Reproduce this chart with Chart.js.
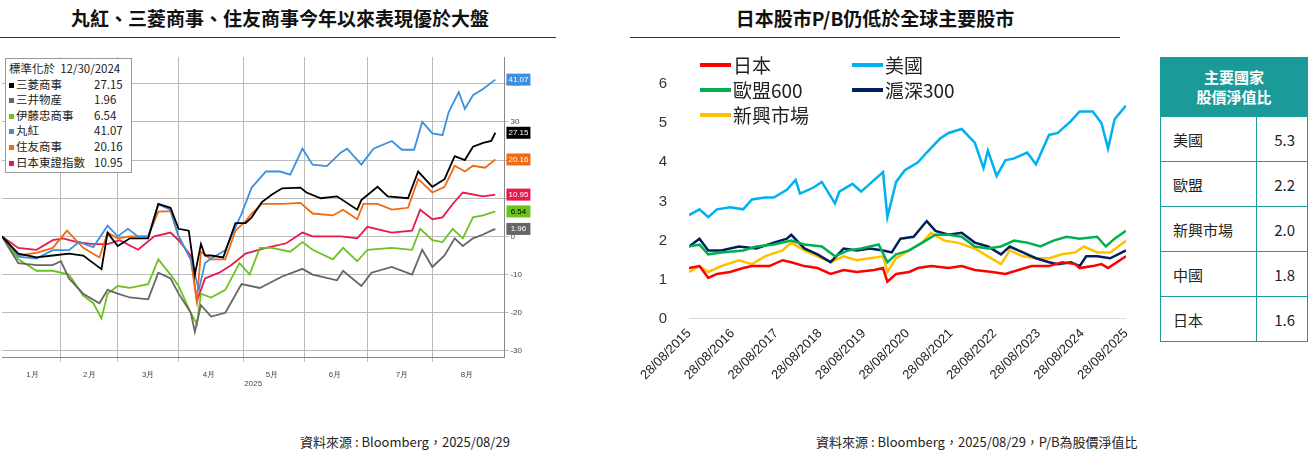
<!DOCTYPE html>
<html><head><meta charset="utf-8">
<script src="https://cdn.jsdelivr.net/npm/chart.js@4"></script>
<style>
body{margin:0;width:1312px;height:455px;background:#fff;font-family:"Noto Sans CJK TC","Noto Sans",sans-serif;position:relative;overflow:hidden}
.t{position:absolute;top:4px;font-size:19px;font-weight:bold;color:#111;text-align:center}
.hr{position:absolute;top:37px;height:1px;background:#333}
.src{position:absolute;top:432px;font-size:13px;color:#222}
#lg1{position:absolute;left:5px;top:58px;width:127px;border:1px solid #999;background:#fff;font-size:11.5px;line-height:15.6px;padding:2px 3px;color:#222;box-sizing:border-box}
#lg1 div{display:flex;white-space:nowrap}
#lg1 i{display:inline-block;width:5px;height:5px;margin:6px 2px 0 0}
#lg1 span.v{position:absolute;left:88px}
#lg2{position:absolute;left:700px;top:52px;font-size:19px;line-height:25px;color:#222}
#lg2 div{position:absolute;white-space:nowrap;display:flex;align-items:center}
#lg2 i{display:inline-block;width:31px;height:4px;margin-right:2px}
table{position:absolute;left:1160px;top:57px;width:148px;border-collapse:collapse;font-size:15px;color:#222}
td{border:1.5px solid #1b9a9a;height:44px;padding:0 12px}
th{background:#1b9a9a;color:#fff;height:56px;font-size:15px;line-height:20px;border:1.5px solid #1b9a9a}
</style></head><body>
<div class="t" style="left:0;width:560px">丸紅、三菱商事、住友商事今年以來表現優於大盤</div>
<div class="t" style="left:630px;width:490px">日本股市P/B仍低於全球主要股市</div>
<div class="hr" style="left:0;width:556px"></div>
<div class="hr" style="left:630px;width:490px"></div>
<div style="position:absolute;left:0;top:44px;width:560px;height:345px"><canvas id="c1"></canvas></div>
<div style="position:absolute;left:640px;top:44px;width:500px;height:350px"><canvas id="c2"></canvas></div>
<div id="lg1"></div>
<div id="lg2"></div>
<table id="tb"></table>
<div class="src" style="left:300px">資料來源 : Bloomberg，2025/08/29</div>
<div class="src" style="left:816px">資料來源 : Bloomberg，2025/08/29，P/B為股價淨值比</div>
<script>
// ---- Left chart data: [day since 12/30/2024, % change]
const leftNames=["三菱商事","三井物產","伊藤忠商事","丸紅","住友商事","日本東證指數"];
const leftLegendNames=["三菱商事","三井物産","伊藤忠商事","丸紅","住友商事","日本東證指數"];
const leftFinal=["27.15","1.96","6.54","41.07","20.16","10.95"];
const leftColors=["#000000","#666666","#6cc31f","#3d8fe0","#f06a10","#e8194a"];
const mitsubishi=[[0,0],[8,-4.5],[17,-5.5],[25,-5],[33,-4.5],[40,-5],[45,-7],[49,-8.6],[52,1],[57,-2.5],[63,-0.5],[72,-0.5],[77,8.5],[83,7.5],[87,2],[92,1.5],[95,-10],[98,-2],[100,-5],[103,-5],[109,-5.5],[115,3.5],[120,3.5],[123,5],[128,9],[133,11],[138,12.6],[147,12.8],[150,11.5],[157,10],[165,10.5],[175,7],[177,9.5],[185,13],[190,10.5],[200,10],[205,17],[212,13],[218,15],[223,21],[228,20],[232,23.5],[237,24.5],[241,25],[243,27.15]];
const mitsui=[[0,0],[8,-7],[17,-7.5],[25,-7.5],[29,-6.5],[33,-11],[40,-15],[48,-17.5],[52,-14],[57,-15],[63,-16],[72,-16.5],[77,-9.5],[83,-11],[87,-15],[93,-20],[95,-25],[98,-18],[103,-21],[110,-20],[118,-12.5],[127,-13.5],[138,-10.5],[148,-8.5],[153,-10],[165,-11.5],[168,-9],[177,-13],[182,-9.5],[192,-8],[202,-10],[207,-3.5],[212,-8],[218,-5],[223,-0.5],[227,-2.5],[232,-0.5],[237,0.5],[241,1.5],[243,1.96]];
const itochu=[[0,0],[8,-6],[17,-9],[25,-9],[33,-10],[40,-15.5],[45,-17.5],[49,-21.5],[52,-15],[57,-13],[63,-13.5],[72,-12.5],[77,-6],[83,-10],[87,-13],[93,-20],[96,-23],[98,-15],[103,-16],[110,-14],[117,-7],[122,-10],[127,-3],[133,-3],[142,-4],[148,-1.5],[153,-3.5],[163,-6],[168,-3],[175,-6.5],[180,-3.5],[192,-3],[202,-3.5],[206,2],[212,-1],[217,-1.5],[222,2],[227,-0.5],[232,5],[237,5.5],[243,6.54]];
const marubeni=[[0,0],[8,-5.3],[17,-5.8],[25,-3.6],[33,-3.6],[38,-1.5],[45,-2.8],[52,2.8],[57,0],[62,2],[67,0],[72,0],[77,8.4],[83,7],[87,0],[93,-6],[97,-14],[100,-7],[103,-5.8],[110,-3.6],[115,2.4],[118,5.9],[123,12.8],[130,17],[137,17],[142,16.2],[148,23],[153,18.8],[160,18.4],[167,22],[170,23],[177,18.8],[183,23],[192,25],[197,22.7],[203,22.7],[207,30],[212,27],[217,26.5],[220,32.5],[225,37.8],[228,33.4],[232,37],[237,38.6],[243,41.07]];
const sumitomo=[[0,0],[8,-5],[17,-4.3],[25,-3],[32,1.5],[40,-3],[48,-5.5],[52,1],[57,-0.5],[63,0],[72,0],[77,6.5],[83,6.6],[87,0],[93,-6],[96,-17],[98,-4],[103,-6],[110,-6],[115,1.5],[120,4],[123,6],[128,8.5],[138,8.5],[147,8.8],[153,6],[163,5.5],[168,7],[175,4.5],[178,8.5],[185,8.5],[192,7],[200,7.5],[205,15],[212,11.5],[218,13],[223,18.5],[228,17],[232,18.5],[238,18],[243,20.16]];
const topix=[[0,0],[8,-3],[17,-3.5],[25,-1],[30,-0.5],[37,-1.5],[45,-2],[52,-2],[58,-1],[67,-3.5],[75,0],[83,1],[87,-1],[93,-5],[96,-17],[100,-11],[107,-9.5],[113,-7.5],[120,-4.5],[130,-3],[140,-1.8],[148,1],[153,0],[167,0],[175,-0.5],[180,2.5],[192,1],[202,1.5],[206,7],[212,4.5],[217,5],[222,8.5],[227,11.5],[237,10.5],[243,10.95]];
const leftSeries=[mitsubishi,mitsui,itochu,marubeni,sumitomo,topix];
const monthLabels=["1月","2月","3月","4月","5月","6月","7月","8月"];
const monthMid=[15,43,72,102,133,164,197,229];
const monthBounds=[29,57,87,119,149,180,212];
const leftYTicks=[-30,-20,-10,0,10,20,30,40];

// ---- Right chart data: [year fraction, P/B]
const rightNames=["日本","美國","歐盟600","滬深300","新興市場"];
const rightColors=["#ff0000","#00b0f0","#00b050","#002060","#ffc000"];
const japan=[[2015.66,1.3],[2015.9,1.35],[2016.1,1.05],[2016.3,1.15],[2016.6,1.2],[2016.9,1.3],[2017.1,1.35],[2017.5,1.35],[2017.8,1.5],[2018.0,1.45],[2018.3,1.35],[2018.6,1.3],[2018.9,1.15],[2019.2,1.25],[2019.5,1.2],[2019.9,1.25],[2020.1,1.3],[2020.2,0.95],[2020.4,1.15],[2020.7,1.2],[2020.9,1.3],[2021.2,1.35],[2021.6,1.3],[2021.9,1.35],[2022.2,1.25],[2022.6,1.2],[2022.9,1.15],[2023.2,1.25],[2023.5,1.35],[2023.9,1.35],[2024.2,1.45],[2024.5,1.4],[2024.6,1.3],[2024.9,1.35],[2025.1,1.4],[2025.25,1.3],[2025.66,1.6]];
const usa=[[2015.66,2.65],[2015.9,2.8],[2016.1,2.6],[2016.3,2.8],[2016.6,2.85],[2016.9,2.8],[2017.1,3.05],[2017.4,3.1],[2017.6,3.1],[2017.9,3.3],[2018.1,3.55],[2018.2,3.2],[2018.5,3.35],[2018.7,3.5],[2019.0,2.95],[2019.1,3.25],[2019.4,3.45],[2019.6,3.25],[2019.9,3.55],[2020.1,3.75],[2020.2,2.6],[2020.4,3.5],[2020.6,3.8],[2020.9,4.0],[2021.1,4.25],[2021.4,4.6],[2021.6,4.75],[2021.9,4.85],[2022.2,4.5],[2022.4,3.85],[2022.5,4.3],[2022.7,3.65],[2022.9,4.05],[2023.1,4.1],[2023.4,4.25],[2023.6,3.95],[2023.9,4.7],[2024.1,4.75],[2024.4,5.05],[2024.6,5.3],[2024.9,5.3],[2025.1,5.0],[2025.25,4.35],[2025.4,5.1],[2025.66,5.45]];
const eu600=[[2015.66,1.85],[2015.9,1.9],[2016.1,1.65],[2016.4,1.7],[2016.9,1.75],[2017.2,1.85],[2017.6,1.9],[2018.0,2.0],[2018.3,1.9],[2018.7,1.85],[2019.0,1.6],[2019.3,1.75],[2019.6,1.8],[2020.0,1.9],[2020.2,1.45],[2020.4,1.65],[2020.7,1.75],[2021.0,1.95],[2021.3,2.15],[2021.6,2.15],[2021.9,2.1],[2022.2,1.85],[2022.5,1.8],[2022.8,1.85],[2023.1,2.0],[2023.4,1.95],[2023.7,1.85],[2024.0,2.0],[2024.3,2.1],[2024.6,2.05],[2025.0,2.1],[2025.2,1.85],[2025.4,2.05],[2025.66,2.25]];
const csi300=[[2015.66,1.85],[2015.9,2.05],[2016.1,1.75],[2016.4,1.75],[2016.8,1.85],[2017.2,1.8],[2017.6,1.95],[2017.9,2.05],[2018.0,2.15],[2018.3,1.8],[2018.6,1.65],[2018.9,1.45],[2019.2,1.8],[2019.5,1.75],[2019.8,1.8],[2020.1,1.75],[2020.3,1.7],[2020.5,2.05],[2020.8,2.1],[2021.1,2.5],[2021.3,2.25],[2021.6,2.15],[2021.9,2.2],[2022.2,1.95],[2022.5,1.85],[2022.8,1.65],[2023.0,1.85],[2023.3,1.7],[2023.6,1.55],[2023.9,1.45],[2024.1,1.4],[2024.4,1.45],[2024.6,1.35],[2024.75,1.6],[2025.0,1.6],[2025.3,1.55],[2025.66,1.75]];
const emerging=[[2015.66,1.2],[2015.9,1.35],[2016.1,1.2],[2016.4,1.35],[2016.8,1.5],[2017.1,1.4],[2017.4,1.6],[2017.8,1.75],[2018.0,1.95],[2018.3,1.75],[2018.6,1.6],[2018.9,1.45],[2019.2,1.6],[2019.5,1.5],[2019.8,1.55],[2020.1,1.6],[2020.2,1.2],[2020.4,1.55],[2020.7,1.75],[2021.0,1.95],[2021.2,2.2],[2021.5,2.0],[2021.8,1.95],[2022.2,1.8],[2022.5,1.6],[2022.8,1.4],[2023.0,1.75],[2023.3,1.6],[2023.6,1.55],[2023.9,1.55],[2024.2,1.65],[2024.5,1.7],[2024.7,1.85],[2025.0,1.7],[2025.3,1.7],[2025.66,2.0]];
const rightSeries=[japan,usa,eu600,csi300,emerging];
const rightXTicks=[2015.66,2016.66,2017.66,2018.66,2019.66,2020.66,2021.66,2022.66,2023.66,2024.66,2025.66];
const rightXLabels=["28/08/2015","28/08/2016","28/08/2017","28/08/2018","28/08/2019","28/08/2020","28/08/2021","28/08/2022","28/08/2023","28/08/2024","28/08/2025"];

// ---- Table
const tableHeader="主要國家<br>股價淨值比";
const tableCountries=["美國","歐盟","新興市場","中國","日本"];
const tableValues=["5.3","2.2","2.0","1.8","1.6"];

// legends
let h='<div>標準化於&nbsp; 12/30/2024</div>';
leftLegendNames.forEach((n,i)=>{h+=`<div><i style="background:${leftColors[i]}"></i>${n}<span class="v">${leftFinal[i]}</span></div>`});
document.getElementById('lg1').innerHTML=h;
const lp=[[0,0],[152,0],[0,25],[152,25],[0,50]];
document.getElementById('lg2').innerHTML=rightNames.map((n,i)=>`<div style="left:${lp[i][0]}px;top:${lp[i][1]}px"><i style="background:${rightColors[i]}"></i>${n}</div>`).join('');
let tb=`<tr><th colspan="2">${tableHeader}</th></tr>`;
tableCountries.forEach((c,i)=>{tb+=`<tr><td>${c}</td><td style="text-align:right">${tableValues[i]}</td></tr>`});
document.getElementById('tb').innerHTML=tb;

const toXY=a=>a.map(p=>({x:p[0],y:p[1]}));
const valBoxes={id:'vb',afterDatasetsDraw(ch){const c=ch.ctx,ys=ch.scales.y,r=ch.chartArea.right;
 ch.data.datasets.forEach((d,i)=>{const v=d.data[d.data.length-1].y;const py=ys.getPixelForValue(v);
 c.fillStyle=leftColors[i];c.fillRect(r+2,py-6,24,12);c.fillStyle=(i==2)?'#000':'#fff';c.font='8px "Liberation Sans"';c.textAlign='center';c.textBaseline='middle';c.fillText(leftFinal[i],r+14,py);});}};
new Chart(document.getElementById('c1'),{type:'line',
 data:{datasets:leftSeries.map((s,i)=>({label:leftNames[i],data:toXY(s),borderColor:leftColors[i],borderWidth:1.8,pointRadius:0,tension:0}))},
 plugins:[valBoxes],
 options:{responsive:true,maintainAspectRatio:false,animation:false,layout:{padding:{left:2,top:13,right:36}},
  plugins:{legend:{display:false},tooltip:{enabled:false}},
  scales:{
   x:{type:'linear',min:0,max:247.5,afterBuildTicks:a=>{a.ticks=monthBounds.map(v=>({value:v}))},
     grid:{color:'#bbb',borderDash:[2,3],drawTicks:true,tickLength:4},border:{color:'#888'},ticks:{display:false}},
   x2:{type:'linear',min:0,max:247.5,position:'bottom',afterBuildTicks:a=>{a.ticks=monthMid.map(v=>({value:v}))},
     grid:{display:false},border:{display:false},ticks:{callback:(v,i)=>monthLabels[i],font:{size:8},color:'#444',padding:0},
     title:{display:true,text:'2025',font:{size:8},color:'#444',padding:0}},
   y:{position:'right',min:-31.8,max:47,afterBuildTicks:a=>{a.ticks=leftYTicks.map(v=>({value:v}))},
     grid:{color:'#bbb',borderDash:[2,3],tickLength:4},border:{color:'#888'},ticks:{font:{size:8},color:'#444',padding:2,
     callback:v=>v}}}}});
new Chart(document.getElementById('c2'),{type:'line',
 data:{datasets:rightSeries.map((s,i)=>({label:rightNames[i],data:toXY(s),borderColor:rightColors[i],borderWidth:2.5,pointRadius:0,tension:0}))},
 options:{responsive:true,maintainAspectRatio:false,animation:false,layout:{padding:{top:40,right:12,bottom:8}},
  plugins:{legend:{display:false},tooltip:{enabled:false}},
  scales:{
   x:{type:'linear',min:2015.66,max:2025.66,afterBuildTicks:a=>{a.ticks=rightXTicks.map(v=>({value:v}))},
     grid:{display:false,tickLength:4},border:{color:'#d9d9d9'},ticks:{callback:(v,i)=>rightXLabels[i],minRotation:45,maxRotation:45,font:{size:13},color:'#222'}},
   y:{min:0,max:6,ticks:{stepSize:1,font:{size:15},color:'#333',padding:14},grid:{display:false},border:{display:false}}}}});
</script></body></html>
